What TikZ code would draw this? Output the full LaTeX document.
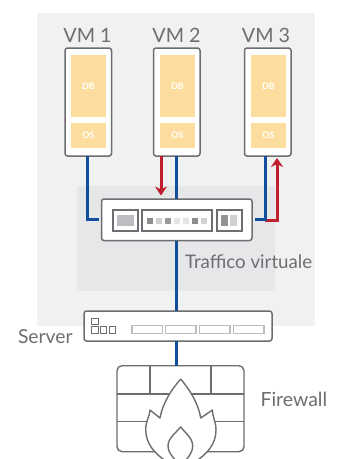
\documentclass[tikz,border=0pt]{standalone}
\usepackage{fontspec}
\setmainfont{Lato}
\usetikzlibrary{arrows.meta,calc}
\definecolor{panel}{HTML}{F0F1F1}
\definecolor{inner}{HTML}{E6E7E8}
\definecolor{edge}{HTML}{6D6E71}
\definecolor{tan}{HTML}{FDDD9E}
\definecolor{blueline}{HTML}{114F9C}
\definecolor{redline}{HTML}{BE1E2D}
\definecolor{lite}{HTML}{BCBDC0}
\tikzset{
  box/.style={draw=edge,line width=1.5pt,rounded corners=2.5pt,fill=white,inner sep=0pt,outer sep=0pt,anchor=north west},
  vmbox/.style={box,minimum width=46.5pt,minimum height=108pt},
  slot/.style={fill=tan,inner sep=0pt,outer sep=0pt,anchor=north west,minimum width=35pt,text=white,font=\fontsize{9}{9}\selectfont\bfseries},
  lab/.style={text=edge,inner sep=0pt,outer sep=0pt,anchor=base west},
  vmlab/.style={text=edge,inner sep=0pt,outer sep=0pt,anchor=base,font=\fontsize{19.7}{19.7}\selectfont},
  swbox/.style={draw=edge,line width=1.1pt,fill=white,inner sep=0pt,outer sep=0pt,anchor=north west,minimum height=21pt},
  sq/.style={inner sep=0pt,outer sep=0pt,minimum width=6pt,minimum height=6pt},
  srvsq/.style={draw=edge,line width=0.8pt,inner sep=0pt,outer sep=0pt,anchor=north west,minimum width=6.5pt,minimum height=6.5pt},
  srvslot/.style={draw=lite,line width=1.2pt,inner sep=0pt,outer sep=0pt,anchor=north west,minimum width=30.5pt,minimum height=7.5pt},
  blue/.style={draw=blueline,line width=3pt},
  red/.style={draw=redline,line width=3pt},
  redarrow/.style={red,-{Stealth[length=9pt,width=12pt,inset=3pt]}},
  brick/.style={draw=edge,line width=1.4pt,line join=round}
}
\begin{document}
\begin{tikzpicture}[x=1pt,y=-1pt]
\useasboundingbox (0,0) rectangle (338,459);
\fill[white] (0,0) rectangle (338,459);
\fill[panel] (37,13) rectangle (315,326);
\fill[inner] (77,186) rectangle (275,291);

% VMs
\node[vmbox] (vma) at (65,48) {};
\node[vmbox] (vmb) at (153.5,48) {};
\node[vmbox] (vmc) at (244.5,48) {};
\foreach \n/\x in {a/71,b/160,c/251}{
  \node[slot,minimum height=62pt] (db\n) at (\x,55) {DB};
  \node[slot,minimum height=25pt] (os\n) at (\x,123) {OS};
}
\node[vmlab] (la) at (87.5,42.5) {VM 1};
\node[vmlab] (lb) at (176.5,42.5) {VM 2};
\node[vmlab] (lc) at (266,42.5) {VM 3};

% virtual switch
\node[box,minimum width=150.5pt,minimum height=41.5pt] (switch) at (101.5,199) {};
\node[swbox,minimum width=25pt] (swa) at (113,210) {};
\node[swbox,minimum width=70pt] (swb) at (142,210) {};
\node[swbox,minimum width=25pt] (swc) at (217,210) {};
\fill[lite] (117,215) rectangle (134,226);
\foreach \x/\c in {150/black!45,159/black!18,168/black!40,177/black!10,186/black!10,195/black!45,204/black!18}{
  \node[sq,fill=\c] at (\x,221) {};
}
\fill[black!42] (221.3,215) rectangle (228,226);
\fill[black!18] (230,215) rectangle (237,226);

% server
\node[box,minimum width=188pt,minimum height=30pt] (server) at (84,311) {};
\node[srvsq] (sa) at (91.5,318) {};
\node[srvsq] (sb) at (91.5,326.5) {};
\node[srvsq] (sc) at (100,326.5) {};
\node[srvsq] (sd) at (109,326.5) {};
\foreach \x in {132,165.5,199.5,233.5}{
  \node[srvslot] at (\x,325.7) {};
}

% firewall
\node[box,line width=1.4pt,rounded corners=5pt,minimum width=127pt,minimum height=86pt] (firewall) at (117,365.7) {};
\draw[brick] (150,365.7) -- (150,394) (211,365.7) -- (211,394)
  (117,394) -- (244,394) (117,421.7) -- (244,421.7);
\draw[brick,fill=white] (180.7,379)
  .. controls (172,389) and (163,402) .. (160,418)
  -- (150,410)
  .. controls (150,416) and (145.5,421) .. (145.7,430)
  .. controls (146,444) and (155,454) .. (166,461)
  -- (196,461)
  .. controls (207,454) and (216,444) .. (216,430)
  .. controls (216,421) and (212,416) .. (212.5,410)
  -- (200.7,418)
  .. controls (198,402) and (189,389) .. (180.7,379);
\draw[brick] (180.7,426.7)
  .. controls (176,433) and (168,438) .. (168,446)
  .. controls (168,452) and (172,456) .. (176,461)
  (180.7,426.7)
  .. controls (185,433) and (192.7,438) .. (192.7,446)
  .. controls (192.7,452) and (189,456) .. (185.5,461);

% connectors
\coordinate (vmbblue) at ($(vmb.south west)+(22.5,0)$);
\coordinate (vmbred) at ($(vmb.south west)+(7.5,0)$);
\coordinate (vmcblue) at ($(vmc.south west)+(20.5,0)$);
\coordinate (vmcred) at ($(vmc.south west)+(32.5,0)$);
\draw[redarrow] (vmbred) -- ($(vmbred |- switch.north)+(0,-3.5)$);
\draw[redarrow] ($(vmcblue |- switch.east)+(0,0.7)$) -| ($(vmcred)+(0,2)$);
\draw[blue] ([xshift=-0.5pt]vma.south) |- ([xshift=-3pt,yshift=0.7pt]switch.west);
\draw[blue] (vmbblue) -- (vmbblue |- switch.north);
\draw[blue] (vmcblue) |- ([xshift=3pt,yshift=0.7pt]switch.east);
\draw[blue] (vmbblue |- switch.south) -- (vmbblue |- server.north);
\draw[blue] (vmbblue |- server.south) -- (vmbblue |- firewall.north);

% labels
\node[lab,font=\fontsize{18.7}{18.7}\selectfont] (ltraf) at (185,268) {Traffico virtuale};
\node[lab,font=\fontsize{19.3}{19.3}\selectfont] (lsrv) at (18,343) {Server};
\node[lab,font=\fontsize{19.5}{19.5}\selectfont] (lfw) at (260.5,406.5) {Firewall};
\end{tikzpicture}
\end{document}
